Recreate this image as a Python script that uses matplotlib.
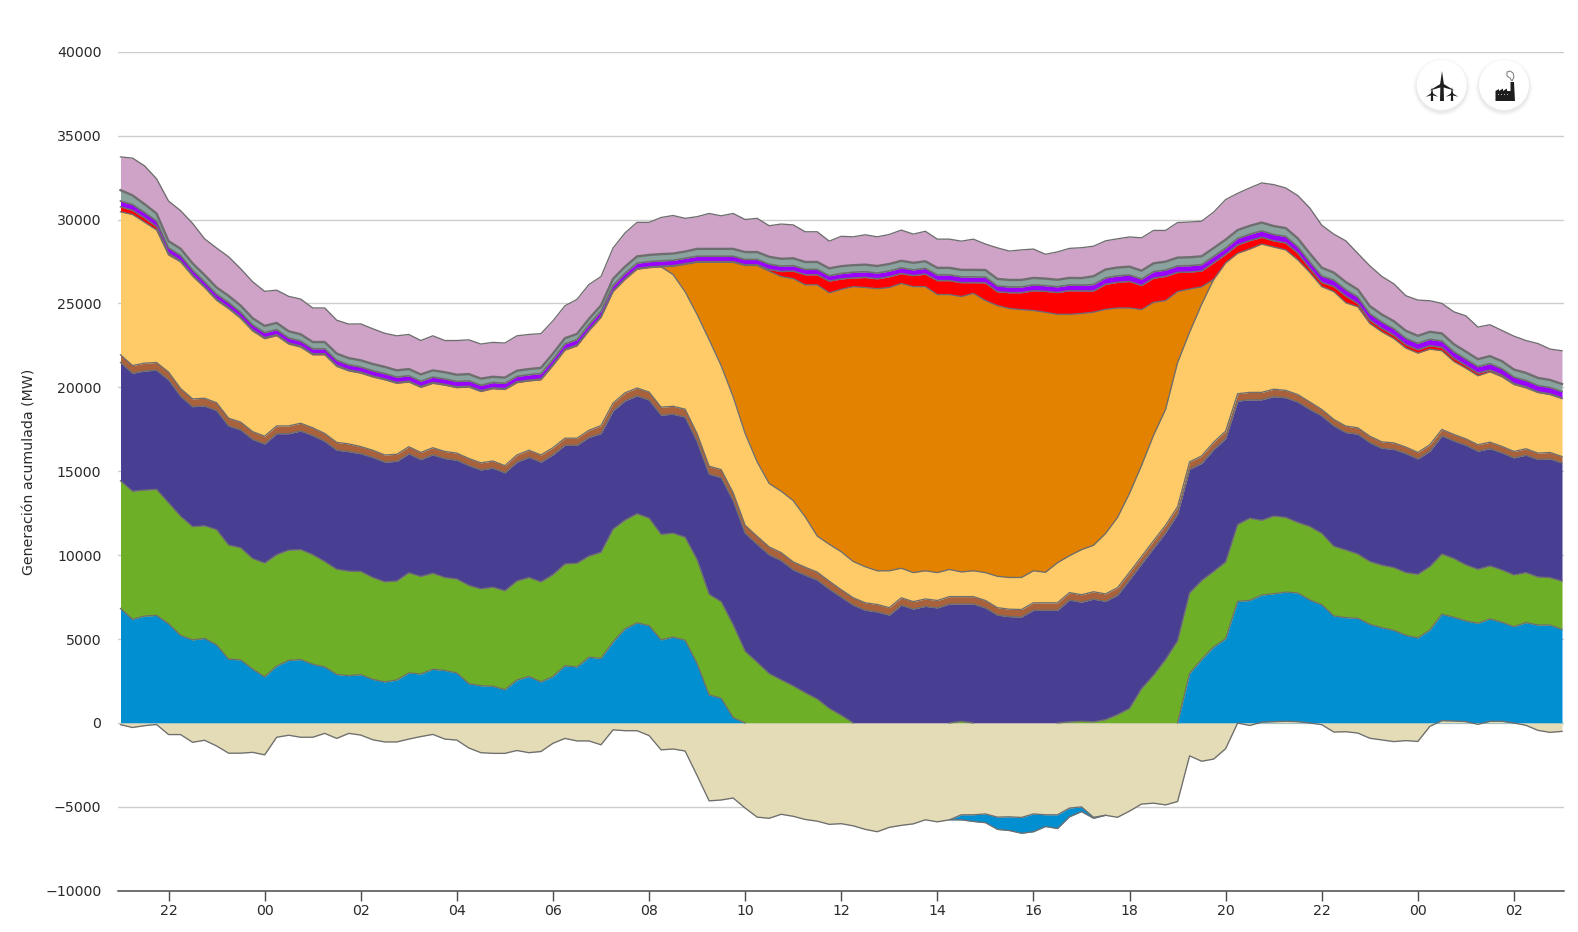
import numpy as np
import matplotlib
matplotlib.use("Agg")
import matplotlib.pyplot as plt
from matplotlib.patches import Circle, Polygon

W, H = 1578, 932

hour_ticks = list(range(22, 52, 2))
hour_labels = [f"{h % 24:02d}" for h in hour_ticks]
y_ticks = list(range(-10000, 45000, 5000))

# quarter-hourly readings (MW), 21:00 to 03:00 two days later
hours = [21 + i * 0.25 for i in range(121)]

blue_top = [6820, 6180, 6370, 6410, 5910, 5220, 4950, 5040, 4650, 3800, 3760, 3210, 2750, 3390, 3730, 3780, 3500, 3340, 2890, 2820,
            2880, 2600, 2450, 2560, 2980, 2920, 3200, 3130, 2980, 2340, 2220, 2190, 1980, 2560, 2770, 2450, 2770, 3410, 3340, 3920,
            3850, 4830, 5610, 5970, 5800, 4950, 5120, 4930, 3540, 1670, 1480, 320, 0, 0, 0, 0, 0, 0, 0, 0,
            0, 0, 0, 0, 0, 0, 0, 0, 0, 0, 0, 0, 0, 0, 0, 0, 0, 0, 0, 0,
            0, 0, 0, 0, 0, 0, 0, 0, 0, 2950, 3790, 4530, 5020, 7250, 7300, 7620, 7700, 7800, 7750, 7330,
            7050, 6380, 6280, 6240, 5880, 5680, 5520, 5230, 5070, 5540, 6480, 6300, 6080, 5940, 6200, 6000, 5740, 5980, 5840, 5840, 5580]
green_top = [14430, 13810, 13880, 13920, 13120, 12320, 11700, 11750, 11520, 10600, 10440, 9800, 9530, 10030, 10300, 10330, 10030, 9620, 9160, 9050,
             9030, 8670, 8410, 8460, 8950, 8730, 8920, 8670, 8580, 8200, 7990, 8090, 7880, 8460, 8670, 8410, 8840, 9480, 9520, 9950,
             10170, 11550, 12090, 12470, 12210, 11240, 11310, 11070, 9730, 7670, 7230, 5850, 4270, 3620, 2940, 2570, 2210, 1800, 1430, 870,
             460, 0, 0, 0, 0, 0, 0, 0, 0, 0, 100, 0, 0, 0, 0, 0, 0, 0, 0, 70,
             100, 70, 200, 500, 870, 2050, 2850, 3790, 4900, 7750, 8490, 9030, 9600, 11830, 12200, 12080, 12330, 12250, 11950, 11710,
             11300, 10530, 10310, 10070, 9620, 9400, 9260, 8960, 8860, 9320, 10070, 9800, 9420, 9160, 9360, 9120, 8820, 8960, 8700, 8660, 8450]
navy_top = [21480, 20840, 20980, 21020, 20450, 19470, 18850, 18890, 18620, 17700, 17470, 16900, 16630, 17240, 17240, 17400, 17130, 16790, 16260, 16170,
            16050, 15830, 15550, 15590, 16040, 15700, 15980, 15760, 15660, 15340, 15080, 15190, 14910, 15550, 15830, 15550, 15980, 16550, 16550, 17020,
            17250, 18590, 19200, 19490, 19250, 18350, 18400, 18230, 16770, 14830, 14630, 13250, 11310, 10650, 10020, 9680, 9130, 8810, 8520, 7980,
            7500, 7020, 6720, 6620, 6430, 7020, 6790, 6950, 6860, 7090, 7090, 7090, 6860, 6430, 6340, 6320, 6720, 6720, 6720, 7330,
            7200, 7380, 7250, 7620, 8540, 9480, 10420, 11340, 12450, 15120, 15470, 16290, 16950, 19180, 19260, 19260, 19450, 19380, 19130, 18690,
            18300, 17710, 17310, 17210, 16710, 16370, 16310, 16060, 15740, 16200, 17110, 16810, 16550, 16200, 16350, 16100, 15800, 15960, 15700, 15740, 15500]
brown_band = [460] * 20 + [420] * 20 + [470] * 20 + [440] * 20 + [440] * 20 + [380] * 21
yellow_top = [30460, 30300, 29840, 29380, 27890, 27480, 26630, 25950, 25190, 24690, 24110, 23360, 22900, 23080, 22580, 22400, 21940, 21940, 21250, 20980,
              20850, 20620, 20450, 20240, 20320, 20000, 20240, 20130, 19980, 20020, 19750, 19920, 19870, 20280, 20380, 20450, 21300, 22220, 22470, 23370,
              24170, 25700, 26430, 27040, 27130, 27180, 26720, 25700, 24340, 22840, 21300, 19440, 17250, 15560, 14270, 13810, 13250, 12280, 11140, 10650,
              10200, 9620, 9310, 9070, 9070, 9220, 8960, 9070, 8960, 9150, 9000, 9070, 8960, 8740, 8670, 8670, 9070, 8980, 9550, 9970,
              10330, 10590, 11290, 12250, 13690, 15350, 17150, 18690, 21480, 23290, 24950, 26430, 27420, 27990, 28240, 28540, 28360, 28190, 27600, 26850,
              26000, 25710, 25040, 24800, 23810, 23310, 22910, 22340, 22040, 22280, 22180, 21540, 21140, 20690, 20930, 20630, 20170, 19970, 19690, 19570, 19330]
orange_midday = [27180, 27210, 27330, 27450, 27450, 27450, 27450, 27260, 27260, 26920, 26600, 26480, 26110, 26110, 25630,
                 25840, 26000, 25950, 25880, 25950, 26190, 26000, 26000, 25530, 25530, 25410, 25600, 25170, 24870, 24700, 24630, 24580, 24470, 24350, 24350,
                 24400, 24480, 24650, 24730, 24730, 24630, 25070, 25170, 25710, 25860, 25990]
red_band = [300, 250, 250, 200, 100, 60, 60, 40, 60, 60, 60, 60, 60, 60, 60, 60, 60, 60, 60, 60, 60,
            50, 50, 50, 50, 50, 50, 50, 50, 50, 50, 50, 50, 50, 50, 50, 50, 50, 50, 50, 50,
            40, 40, 40, 40, 40, 40, 40, 40, 40, 40, 40, 40, 40,
            100, 300, 450, 600, 600, 700, 620,
            520, 600, 590, 640, 590, 660, 750, 830, 830, 830, 640, 1060, 830, 940, 1010, 1180, 1250, 1300, 1410,
            1350, 1260, 1490, 1530, 1580, 1440, 1440, 1440, 1140, 1010, 940,
            990, 500, 500, 500, 400, 370, 420, 400, 250, 250,
            300, 400, 200, 200, 200, 200, 200, 200, 200, 200, 200, 160, 160, 100, 100, 60, 60, 40, 40, 40]
purple_band = [340, 340, 330, 330, 320, 320] + [300] * 15 + [320] * 40 + [340] * 20 + [380] * 40
grey_band = [650, 550, 500, 450] + [400] * 17 + [400] * 10 + [340] * 10 + [400] * 7 + [440] * 13 + [420] * 20 + [500] * 20 + [450] * 20
total_top = [33730, 33660, 33200, 32430, 31100, 30530, 29770, 28850, 28300, 27780, 27070, 26290, 25720, 25790, 25420, 25260, 24730, 24730, 24000, 23770,
             23780, 23490, 23220, 23070, 23150, 22790, 23070, 22790, 22790, 22830, 22580, 22680, 22640, 23070, 23150, 23200, 23960, 24860, 25240, 26130,
             26600, 28300, 29200, 29830, 29830, 30120, 30240, 30070, 30170, 30360, 30220, 30360, 30000, 30070, 29630, 29730, 29680, 29270, 29270, 28710,
             29000, 28970, 29090, 28970, 29110, 29370, 29130, 29300, 28830, 28830, 28710, 28830, 28540, 28310, 28120, 28190, 28240, 27930, 28070, 28280,
             28320, 28410, 28730, 28850, 28960, 28910, 29350, 29350, 29820, 29850, 29900, 30440, 31190, 31560, 31880, 32180, 32080, 31880, 31430, 30690,
             29660, 29130, 28730, 27980, 27240, 26610, 26170, 25460, 25200, 25160, 25000, 24500, 24260, 23590, 23730, 23390, 23050, 22790, 22610, 22280, 22180]
tan_low = [-100, -270, -160, -90, -690, -690, -1150, -1030, -1370, -1800, -1800, -1750, -1900, -850, -730, -850, -850, -620, -920, -620,
           -720, -1000, -1130, -1130, -960, -810, -680, -960, -1020, -1490, -1770, -1810, -1810, -1640, -1770, -1700, -1210, -920, -1070, -1070,
           -1300, -410, -460, -460, -750, -1600, -1550, -1670, -3130, -4640, -4590, -4470, -5070, -5610, -5680, -5440, -5560, -5750, -5850, -6040,
           -6000, -6130, -6340, -6480, -6220, -6100, -6010, -5770, -5890, -5770, -5470, -5470, -5420, -5610, -5590, -5630, -5420, -5470, -5470, -5070,
           -5000, -5620, -5500, -5620, -5250, -4830, -4780, -4880, -4680, -1960, -2280, -2150, -1530, 0, -150, 50, 80, 100, 80, 0,
           -100, -540, -520, -600, -910, -1010, -1110, -1050, -1100, -200, 140, 120, 80, -80, 100, 100, 0, -140, -440, -560, -500]
blue_neg_band = [0] * 70 + [300, 400, 520, 730, 820, 940, 1060, 700, 820, 520, 280, 60] + [0] * 39

C_GRID = "#cdcdcd"
C_EDGE = "#6e6e6e"
C_TEXT = "#2b2b2b"

plt.rcParams["font.family"] = ["DejaVu Sans"]
fig = plt.figure(figsize=(W / 100, H / 100), dpi=100, facecolor="white")

L, R, T, B = 118, 1564, 51.7, 890.8
ax = fig.add_axes([L / W, 1 - B / H, (R - L) / W, (B - T) / H])
px_per_h = 48.05
x0 = 21 - (120.5 - L) / px_per_h
ax.set_xlim(x0, x0 + (R - L) / px_per_h)
ax.set_ylim(-10000, 40000)

t = np.array(hours)
blue = np.array(blue_top)
green = np.array(green_top)
navy = np.array(navy_top)
brown = navy + np.array(brown_band)
yellow = np.array(yellow_top)
orange = np.array(yellow_top[:45] + orange_midday + yellow_top[91:])
red = orange + np.array(red_band)
purple = red + np.array(purple_band)
grey = purple + np.array(grey_band)
total = np.array(total_top)
tan = np.array(tan_low)
blue_neg = tan - np.array(blue_neg_band)
zero = np.zeros_like(t)

layers = [
    (zero, blue, "#0090D2"),
    (blue, green, "#6DAF26"),
    (green, navy, "#483F93"),
    (navy, brown, "#A9623B"),
    (brown, yellow, "#FFCB68"),
    (yellow, orange, "#E38200"),
    (orange, red, "#FF0000"),
    (red, purple, "#9B00FF"),
    (purple, grey, "#8AA39E"),
    (grey, total, "#CFA2C8"),
    (tan, zero, "#E3DCB6"),
    (blue_neg, tan, "#0090D2"),
]
for low, high, colour in layers:
    ax.fill_between(t, low, high, color=colour, lw=0, zorder=3)
for line, mask, width in [
    (blue, blue > 0, 0.95), (green, green > 0, 0.95), (navy, None, 0.95), (brown, None, 0.95), (yellow, None, 0.95),
    (orange, orange > yellow, 0.95), (red, None, 1.1), (purple, None, 1.2), (grey, None, 1.7), (total, None, 0.95),
    (tan, None, 0.95), (blue_neg, blue_neg < tan, 0.95),
]:
    y = line if mask is None else np.where(mask | np.roll(mask, 1) | np.roll(mask, -1), line, np.nan)
    ax.plot(t, y, color=C_EDGE, lw=width, zorder=4, solid_joinstyle="round")

ax.set_yticks(y_ticks)
ax.set_yticklabels([str(v).replace("-", "\u2212") for v in y_ticks], fontsize=10.2, color=C_TEXT)
ax.set_xticks(hour_ticks)
ax.set_xticklabels(hour_labels, fontsize=10.2, color=C_TEXT)
ax.tick_params(axis="y", length=0, pad=12)
ax.tick_params(axis="x", length=7, width=1, color="#4a4a4a", pad=2.5)
ax.grid(axis="y", color=C_GRID, lw=1, zorder=1)
ax.set_axisbelow(True)
for side in ["top", "left", "right"]:
    ax.spines[side].set_visible(False)
ax.spines["bottom"].set_color("#4a4a4a")
ax.spines["bottom"].set_linewidth(1.1)
fig.text(30 / W, 1 - 471.5 / H, "Generación acumulada (MW)", rotation=90, fontsize=10.2,
         color=C_TEXT, ha="center", va="center")

# icon buttons, drawn in pixel coordinates
ov = fig.add_axes([0, 0, 1, 1], facecolor="none")
ov.set_xlim(0, W)
ov.set_ylim(H, 0)
ov.axis("off")
DARK = "#1e1e1e"
for cx in (1441.7, 1504):
    for grow, a in ((4, 0.012), (3, 0.016), (2, 0.022), (1, 0.03)):
        ov.add_patch(Circle((cx, 87), 25 + grow, color="black", alpha=a, lw=0))
    ov.add_patch(Circle((cx, 85), 25, color="white", lw=0))


def turbine(hx, hy, blade, foot, w):
    ov.add_patch(Polygon([(hx - w * 0.8, hy), (hx + w * 0.8, hy), (hx + w, foot), (hx - w, foot)], color=DARK, lw=0))
    ov.add_patch(Polygon([(hx - w, hy), (hx, hy - blade), (hx + w, hy)], color=DARK, lw=0))
    ov.add_patch(Polygon([(hx, hy - w), (hx - blade * 0.9, hy + blade * 0.4), (hx, hy + w)], color=DARK, lw=0))
    ov.add_patch(Polygon([(hx, hy - w), (hx + blade * 0.9, hy + blade * 0.4), (hx, hy + w)], color=DARK, lw=0))


turbine(1442, 85, 14, 101, 2.0)
turbine(1432, 94, 7, 101, 1.2)
turbine(1452, 94, 7, 101, 1.2)

ov.add_patch(Polygon([(1495.5, 101), (1495.5, 91), (1499, 89), (1499, 91), (1503, 88.5), (1503, 91),
                      (1507, 88.5), (1507, 91), (1510.5, 91), (1510.5, 82), (1514, 82), (1515, 101)],
                     color=DARK, lw=0))
for wx in (1498, 1501, 1504, 1507):
    ov.add_patch(Polygon([(wx, 93.5), (wx + 1.5, 93.5), (wx + 1.5, 95), (wx, 95)], color="#bbbbbb", lw=0))
ov.add_patch(Polygon([(1507, 72), (1510, 71), (1513, 73), (1514, 77), (1512, 81), (1510, 78), (1507, 76)],
                     facecolor="white", edgecolor="#777777", lw=0.7))

fig.savefig("out.png", dpi=100)
